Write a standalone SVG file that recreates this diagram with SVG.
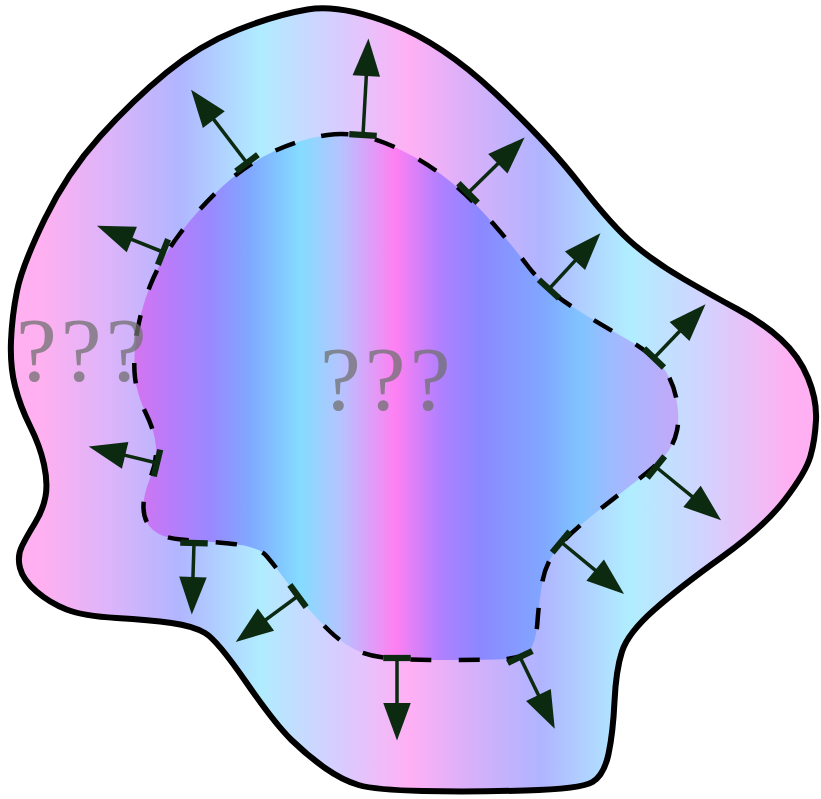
<svg xmlns="http://www.w3.org/2000/svg" width="821" height="799" viewBox="0 0 821 799">
<style>
.outer{fill:url(#gOuter);stroke:#000;stroke-width:6;stroke-linejoin:round}
.inner{fill:url(#gInner);stroke:none}
.dash{fill:none;stroke:#000;stroke-width:4.5;stroke-dasharray:21 27}
.arrow{stroke:#0c2a10;stroke-width:3.5;fill:none;marker-start:url(#tbar);marker-end:url(#head)}
.q{font-family:"Liberation Serif","DejaVu Serif",serif;font-size:92px;fill:#707070;fill-opacity:0.75;letter-spacing:4px}
</style>
<defs>
<linearGradient id="gOuter" gradientUnits="userSpaceOnUse" x1="0" y1="0" x2="821" y2="0">
<stop offset="0" stop-color="#ffb0f0"/>
<stop offset="0.049" stop-color="#ffb0f0"/>
<stop offset="0.134" stop-color="#dcb4fa"/>
<stop offset="0.219" stop-color="#b0b6ff"/>
<stop offset="0.317" stop-color="#b0ecff"/>
<stop offset="0.365" stop-color="#c4dcff"/>
<stop offset="0.414" stop-color="#d8ccff"/>
<stop offset="0.499" stop-color="#ffb0f4"/>
<stop offset="0.572" stop-color="#d8b0fa"/>
<stop offset="0.658" stop-color="#b0b4ff"/>
<stop offset="0.767" stop-color="#b0eeff"/>
<stop offset="0.853" stop-color="#d0d4ff"/>
<stop offset="0.962" stop-color="#ffb0f2"/>
<stop offset="1" stop-color="#ffb0f2"/>
</linearGradient>
<linearGradient id="gInner" gradientUnits="userSpaceOnUse" x1="135" y1="0" x2="680" y2="0">
<stop offset="0" stop-color="#d474f0"/>
<stop offset="0.064" stop-color="#b87cfa"/>
<stop offset="0.138" stop-color="#9a88ff"/>
<stop offset="0.211" stop-color="#80a8ff"/>
<stop offset="0.303" stop-color="#84dcff"/>
<stop offset="0.376" stop-color="#b4c4ff"/>
<stop offset="0.477" stop-color="#ff80f2"/>
<stop offset="0.560" stop-color="#b080ff"/>
<stop offset="0.633" stop-color="#8c88ff"/>
<stop offset="0.752" stop-color="#80a8ff"/>
<stop offset="0.817" stop-color="#80c4ff"/>
<stop offset="0.890" stop-color="#a4b8ff"/>
<stop offset="1" stop-color="#c4a8f8"/>
</linearGradient>
<marker id="head" markerUnits="userSpaceOnUse" markerWidth="40" markerHeight="30" viewBox="-5 -12 32 24" refX="0" refY="0" orient="auto" overflow="visible">
<path d="M-4,-11 L26,0 L-4,11 Z" fill="#0c2a10"/>
</marker>
<marker id="tbar" markerUnits="userSpaceOnUse" markerWidth="10" markerHeight="30" viewBox="-3 -12 6 24" refX="0" refY="0" orient="auto" overflow="visible">
<path d="M0,-11 L0,11" stroke="#0c2a10" stroke-width="5" fill="none"/>
</marker>
</defs>

<g id="outer-region">
<path class="outer" d="M 307.5,9.5 Q 340,4 391,23.5 Q 442,43 495,93 Q 548,143 580.5,185 Q 613,227 634.5,245 Q 656,263 684.5,279.5 Q 713,296 738,309.5 Q 763,323 781,339.5 Q 799,356 808,378 Q 817,400 816,420 Q 815,440 810.5,456 Q 806,472 785,499.5 Q 764,527 722,557 Q 680,587 654,610 Q 628,633 622,651.5 Q 616,670 614.5,701.5 Q 613,733 608.5,754 Q 604,775 592.5,782 Q 581,789 525.5,790.5 Q 470,792 422.5,791 Q 375,790 358.5,785 Q 342,780 325,768 Q 308,756 291.5,740 Q 275,724 246,682 Q 217,640 205,633 Q 193,626 171.5,623 Q 150,620 116.5,618 Q 83,616 66.5,609.5 Q 50,603 36.5,591.5 Q 23,580 20,568 Q 17,556 22,546 Q 27,536 35,523 Q 43,510 45.5,496.5 Q 48,483 44,464.5 Q 40,446 30,426 Q 20,406 15,386 Q 10,366 11,341 Q 12,316 17,291 Q 22,266 44.5,219.5 Q 67,173 100,136.5 Q 133,100 166.5,72.5 Q 200,45 237.5,30 Q 275,15 307.5,9.5 Z"/>
</g>

<g id="inner-region">
<path class="inner" d="M 327.5,135 Q 355,131 385,143 Q 415,155 440,173.5 Q 465,192 486.5,216 Q 508,240 527,265 Q 546,290 571,306 Q 596,322 623,337 Q 650,352 661,365 Q 672,378 676,397 Q 680,416 677,430.5 Q 674,445 665,455.5 Q 656,466 634.5,482.5 Q 613,499 591.5,516 Q 570,533 558,547.5 Q 546,562 542.5,581 Q 539,600 537.5,621.5 Q 536,643 529,651 Q 522,659 496,659.5 Q 470,660 439,660 Q 408,660 388,658 Q 368,656 355,649.5 Q 342,643 330,631.5 Q 318,620 306.5,606.5 Q 295,593 285,579.5 Q 275,566 266.5,556 Q 258,546 229,543.5 Q 200,541 181,539.5 Q 162,538 153,530 Q 144,522 143.5,508.5 Q 143,495 150,478.5 Q 157,462 156,447 Q 155,432 146,413.5 Q 137,395 135,377.5 Q 133,360 136.5,336 Q 140,312 150,286 Q 160,260 180,233.5 Q 200,207 223.5,185.5 Q 247,164 273.5,151.5 Q 300,139 327.5,135 Z"/>
<path class="dash" d="M 327.5,135 Q 355,131 385,143 Q 415,155 440,173.5 Q 465,192 486.5,216 Q 508,240 527,265 Q 546,290 571,306 Q 596,322 623,337 Q 650,352 661,365 Q 672,378 676,397 Q 680,416 677,430.5 Q 674,445 665,455.5 Q 656,466 634.5,482.5 Q 613,499 591.5,516 Q 570,533 558,547.5 Q 546,562 542.5,581 Q 539,600 537.5,621.5 Q 536,643 529,651 Q 522,659 496,659.5 Q 470,660 439,660 Q 408,660 388,658 Q 368,656 355,649.5 Q 342,643 330,631.5 Q 318,620 306.5,606.5 Q 295,593 285,579.5 Q 275,566 266.5,556 Q 258,546 229,543.5 Q 200,541 181,539.5 Q 162,538 153,530 Q 144,522 143.5,508.5 Q 143,495 150,478.5 Q 157,462 156,447 Q 155,432 146,413.5 Q 137,395 135,377.5 Q 133,360 136.5,336 Q 140,312 150,286 Q 160,260 180,233.5 Q 200,207 223.5,185.5 Q 247,164 273.5,151.5 Q 300,139 327.5,135 Z"/>
</g>

<g id="labels">
<text class="q" x="16" y="381">???</text>
<text class="q" x="320" y="410">???</text>
</g>

<g id="connectors">
<line class="arrow" x1="363" y1="135" x2="366.6" y2="71"/>
<line class="arrow" x1="247" y1="163" x2="210.8" y2="115.6"/>
<line class="arrow" x1="163" y1="252" x2="127.2" y2="237.7"/>
<line class="arrow" x1="468" y1="193" x2="501.4" y2="160.2"/>
<line class="arrow" x1="549" y1="289" x2="578.4" y2="257.1"/>
<line class="arrow" x1="654" y1="358" x2="683" y2="327.8"/>
<line class="arrow" x1="656" y1="467" x2="695.9" y2="499.6"/>
<line class="arrow" x1="561" y1="542" x2="599" y2="573.4"/>
<line class="arrow" x1="520" y1="657" x2="540.6" y2="699.6"/>
<line class="arrow" x1="397" y1="658" x2="397" y2="708"/>
<line class="arrow" x1="298" y1="596" x2="261.9" y2="622.6"/>
<line class="arrow" x1="194" y1="543" x2="192.8" y2="582"/>
<line class="arrow" x1="157" y1="463" x2="120.3" y2="454.1"/>
</g>
</svg>
